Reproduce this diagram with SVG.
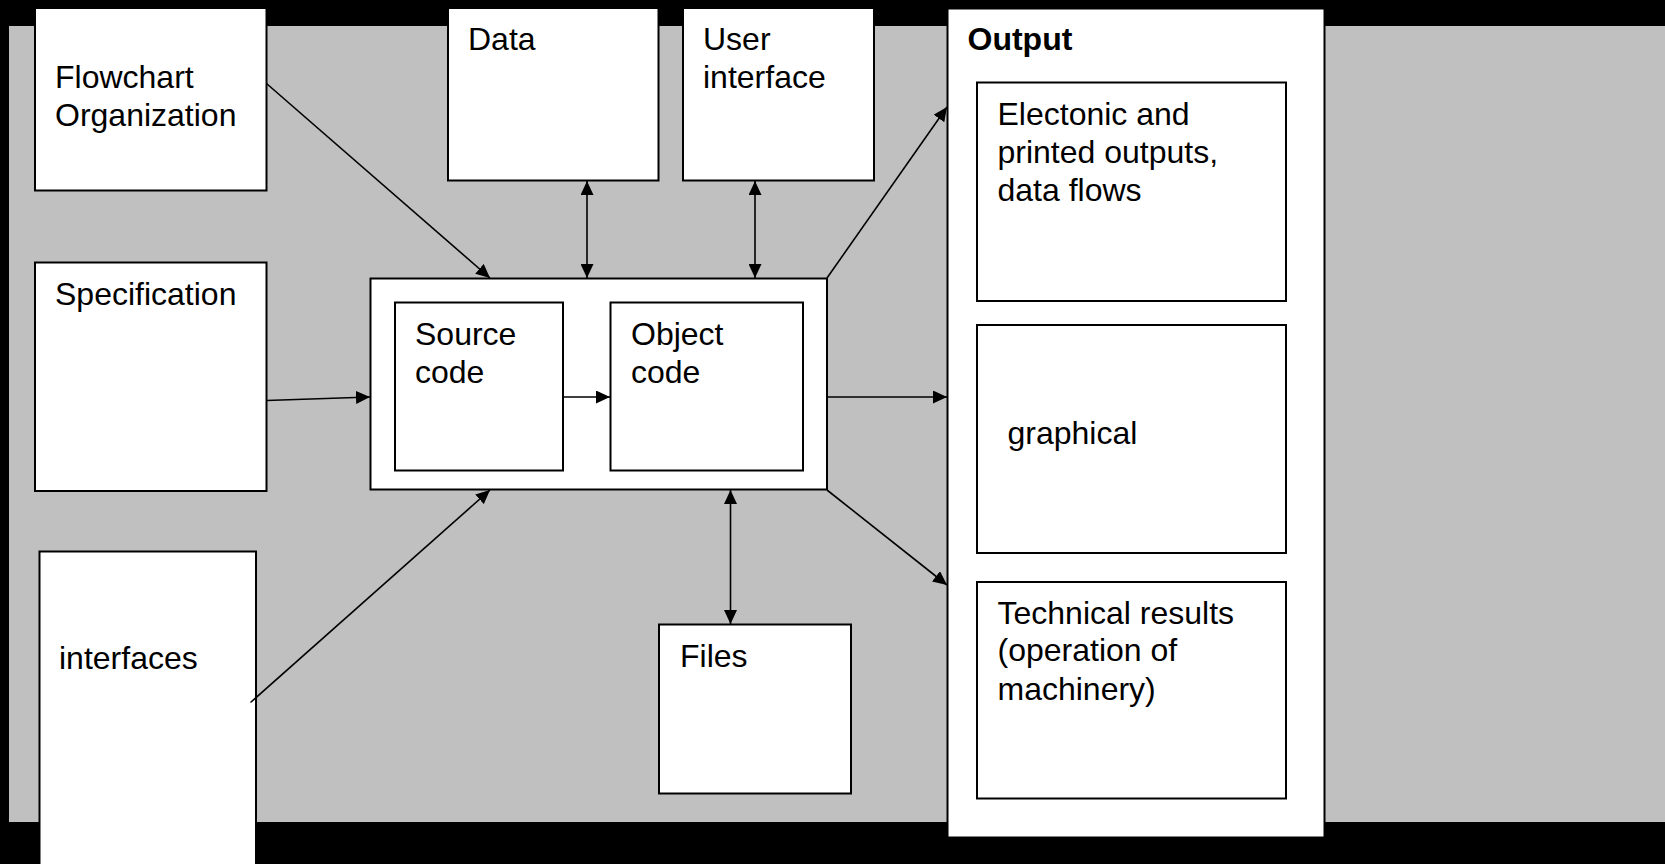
<svg xmlns="http://www.w3.org/2000/svg" width="1665" height="864" viewBox="0 0 1665 864">
<defs>
<style>
.box{fill:#fff;stroke:#000;stroke-width:2}
.t{font-family:"Liberation Sans",Arial,sans-serif;font-size:32px;fill:#000}
.b{font-weight:bold}
.c{stroke:#000;stroke-width:1.6;fill:none}
</style>
<marker id="ah" markerUnits="userSpaceOnUse" markerWidth="15" markerHeight="13" refX="14" refY="6.5" orient="auto-start-reverse">
<path d="M0,0 L14,6.5 L0,13 z" fill="#000"/>
</marker>
</defs>
<rect x="0" y="0" width="1665" height="864" fill="#000"/>
<rect x="9" y="26" width="1656" height="796" fill="#c0c0c0"/>

<g id="flowchart"><rect class="box" x="35" y="8" width="231.5" height="182.5"/><text class="t" x="55" y="88">Flowchart</text><text class="t" x="55" y="126">Organization</text></g>
<g id="specification"><rect class="box" x="35" y="262.5" width="231.5" height="228.5"/><text class="t" x="55" y="304.5">Specification</text></g>
<g id="interfaces"><rect class="box" x="39.5" y="551.5" width="216.5" height="330"/><text class="t" x="59" y="669">interfaces</text></g>
<g id="data"><rect class="box" x="448" y="8" width="210.5" height="172.5"/><text class="t" x="468" y="49.5">Data</text></g>
<g id="userinterface"><rect class="box" x="683" y="8" width="191" height="172.5"/><text class="t" x="703" y="49.5">User</text><text class="t" x="703" y="88">interface</text></g>
<g id="program"><rect class="box" x="370.5" y="278.5" width="456.5" height="211"/></g>
<g id="source"><rect class="box" x="395" y="302.5" width="168" height="168"/><text class="t" x="415" y="345">Source</text><text class="t" x="415" y="383">code</text></g>
<g id="object"><rect class="box" x="610.5" y="302.5" width="192.5" height="168"/><text class="t" x="631" y="345">Object</text><text class="t" x="631" y="383">code</text></g>
<g id="files"><rect class="box" x="659" y="624.5" width="192" height="169"/><text class="t" x="680" y="667">Files</text></g>
<g id="output"><rect class="box" x="947.5" y="8.5" width="377" height="829"/><text class="t b" x="967.5" y="49.5">Output</text></g>
<g id="electronic"><rect class="box" x="977" y="82.5" width="309" height="218.5"/><text class="t" x="997.5" y="124.5">Electonic and</text><text class="t" x="997.5" y="162.5">printed outputs,</text><text class="t" x="997.5" y="200.5">data flows</text></g>
<g id="graphical"><rect class="box" x="977" y="325" width="309" height="228"/><text class="t" x="1007.5" y="443.5">graphical</text></g>
<g id="technical"><rect class="box" x="977" y="582" width="309" height="216.5"/><text class="t" x="997.5" y="623.5">Technical results</text><text class="t" x="997.5" y="661">(operation of</text><text class="t" x="997.5" y="699.5">machinery)</text></g>

<g id="connectors">
<line class="c" x1="266.5" y1="83.5" x2="490" y2="278" marker-end="url(#ah)"/>
<line class="c" x1="266.5" y1="400.5" x2="370" y2="397" marker-end="url(#ah)"/>
<line class="c" x1="250.5" y1="702.5" x2="490" y2="490" marker-end="url(#ah)"/>
<line class="c" x1="587" y1="181" x2="587" y2="278" marker-start="url(#ah)" marker-end="url(#ah)"/>
<line class="c" x1="755" y1="181" x2="755" y2="278" marker-start="url(#ah)" marker-end="url(#ah)"/>
<line class="c" x1="730.5" y1="490" x2="730.5" y2="624" marker-start="url(#ah)" marker-end="url(#ah)"/>
<line class="c" x1="563" y1="397" x2="610" y2="397" marker-end="url(#ah)"/>
<line class="c" x1="827" y1="278" x2="947" y2="107" marker-end="url(#ah)"/>
<line class="c" x1="827" y1="397" x2="947" y2="397" marker-end="url(#ah)"/>
<line class="c" x1="827" y1="490" x2="947" y2="585" marker-end="url(#ah)"/>
</g>
</svg>
